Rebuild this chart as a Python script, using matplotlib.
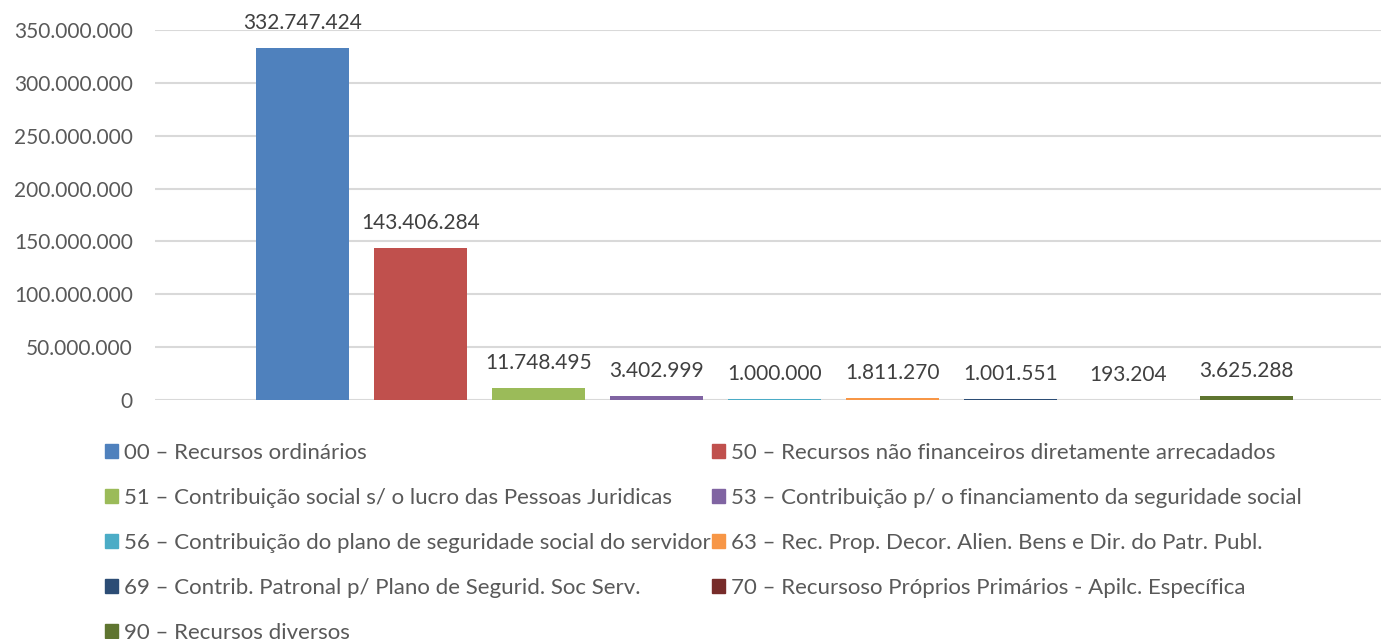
import matplotlib
matplotlib.use("Agg")
import matplotlib.pyplot as plt
from matplotlib.patches import Patch
from matplotlib.ticker import FuncFormatter

plt.rcParams['font.family'] = ['Lato', 'DejaVu Sans']

labels = [
    "00 – Recursos ordinários",
    "50 – Recursos não financeiros diretamente arrecadados",
    "51 – Contribuição social s/ o lucro das Pessoas Juridicas",
    "53 – Contribuição p/ o financiamento da seguridade social",
    "56 – Contribuição do plano de seguridade social do servidor",
    "63 – Rec. Prop. Decor. Alien. Bens e Dir. do Patr. Publ.",
    "69 – Contrib. Patronal p/ Plano de Segurid. Soc Serv.",
    "70 – Recursoso Próprios Primários - Apilc. Específica",
    "90 – Recursos diversos",
]
values = [332747424, 143406284, 11748495, 3402999, 1000000, 1811270, 1001551, 193204, 3625288]
colors = ["#4F81BD", "#C0504D", "#9BBB59", "#8064A2", "#4BACC6",
          "#F79646", "#2C4D75", "#772C2A", "#5F7530"]
yticks = [0, 50000000, 100000000, 150000000, 200000000, 250000000, 300000000, 350000000]


def fmt(v):
    return f"{int(v):,}".replace(",", ".")


W, H = 1381, 639
fig = plt.figure(figsize=(W / 100, H / 100), dpi=100)
ax = fig.add_axes([155 / W, 1 - 400 / H, (1381 - 155) / W, (400 - 30) / H])

xs = list(range(len(values)))
bars = ax.bar(xs, values, width=93 / 118, color=colors, zorder=3)
for x, v in zip(xs, values):
    ax.annotate(fmt(v), (x, v), xytext=(0, 18), textcoords="offset points",
                ha="center", va="center", fontsize=15, color="#404040")

ax.set_xlim((155 - 302.5) / 118, (1381 - 302.5) / 118)
ax.set_ylim(0, 350000000)
ax.set_yticks(yticks)
ax.yaxis.set_major_formatter(FuncFormatter(lambda v, p: fmt(v)))
ax.tick_params(axis="y", length=0, pad=16, labelsize=15, labelcolor="#595959")
ax.set_xticks([])
ax.grid(axis="y", color="#D9D9D9", linewidth=1.5, zorder=0)
for s in ax.spines.values():
    s.set_visible(False)

handles = [Patch(color=c) for c in colors]
order = [0, 2, 4, 6, 8, 1, 3, 5, 7]
leg = fig.legend([handles[i] for i in order], [labels[i] for i in order],
                 ncol=2, loc="upper left",
                 bbox_to_anchor=(105 / W, 1 - 443 / H),
                 frameon=False, fontsize=16, labelcolor="#595959",
                 handlelength=0.6, handleheight=0.6, handletextpad=0.25,
                 columnspacing=0.05, labelspacing=1.12, borderpad=0,
                 borderaxespad=0)

fig.savefig("out.png", dpi=100)
